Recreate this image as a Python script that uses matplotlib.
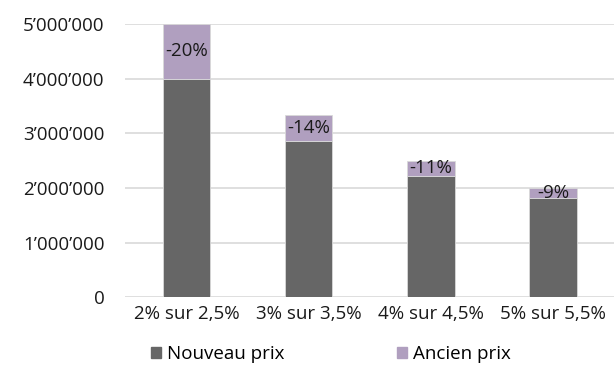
import matplotlib
matplotlib.use('Agg')
import matplotlib.pyplot as plt
from matplotlib.ticker import FuncFormatter
from matplotlib.patches import Patch

plt.rcParams['font.family'] = ['Open Sans', 'DejaVu Sans']

categories = ['2% sur 2,5%', '3% sur 3,5%', '4% sur 4,5%', '5% sur 5,5%']
nouveau_prix = [4000000, 2857143, 2222222, 1818182]
ancien_prix = [5000000, 3333333, 2500000, 2000000]

col_nouveau = '#666666'
col_ancien = '#B09FBF'

diff = [a - n for a, n in zip(ancien_prix, nouveau_prix)]
labels = ['%d%%' % round((n - a) / a * 100) for n, a in zip(nouveau_prix, ancien_prix)]

fig = plt.figure(figsize=(6.14, 3.65), dpi=100)
ax = fig.add_axes([0.204, 0.186, 0.796, 0.748])

x = range(len(categories))
ax.bar(x, nouveau_prix, width=0.39, color=col_nouveau, edgecolor='#D9D9D9', linewidth=0.6, zorder=3)
ax.bar(x, diff, width=0.39, bottom=nouveau_prix, color=col_ancien, edgecolor='#D9D9D9', linewidth=0.6, zorder=3)

for i in x:
    ax.text(i, nouveau_prix[i] + diff[i] / 2, labels[i], ha='center', va='center',
            fontsize=13.5, color='#1a1a1a', zorder=4)

ax.set_xlim(-0.5, 3.5)
ax.set_ylim(0, 5000000)
ax.set_yticks(range(0, 5000001, 1000000))
ax.yaxis.set_major_formatter(FuncFormatter(lambda v, p: '{:,}'.format(int(v)).replace(',', '\u2019')))
ax.set_xticks(list(x))
ax.set_xticklabels(categories)
ax.tick_params(axis='both', length=0, labelsize=13.5, labelcolor='#1a1a1a')
ax.tick_params(axis='y', pad=15)
ax.tick_params(axis='x', pad=6)
ax.grid(axis='y', color='#D9D9D9', linewidth=1.2, zorder=0)
for s in ax.spines.values():
    s.set_visible(False)

handles = [Patch(color=col_nouveau), Patch(color=col_ancien)]
fig.legend(handles, ['Nouveau prix', 'Ancien prix'], loc='lower left',
           bbox_to_anchor=(0.218, -0.042), ncol=2, frameon=False, fontsize=13.5,
           handlelength=0.55, handleheight=0.55, handletextpad=0.3, columnspacing=6.0)

fig.savefig('out.png', dpi=100)
